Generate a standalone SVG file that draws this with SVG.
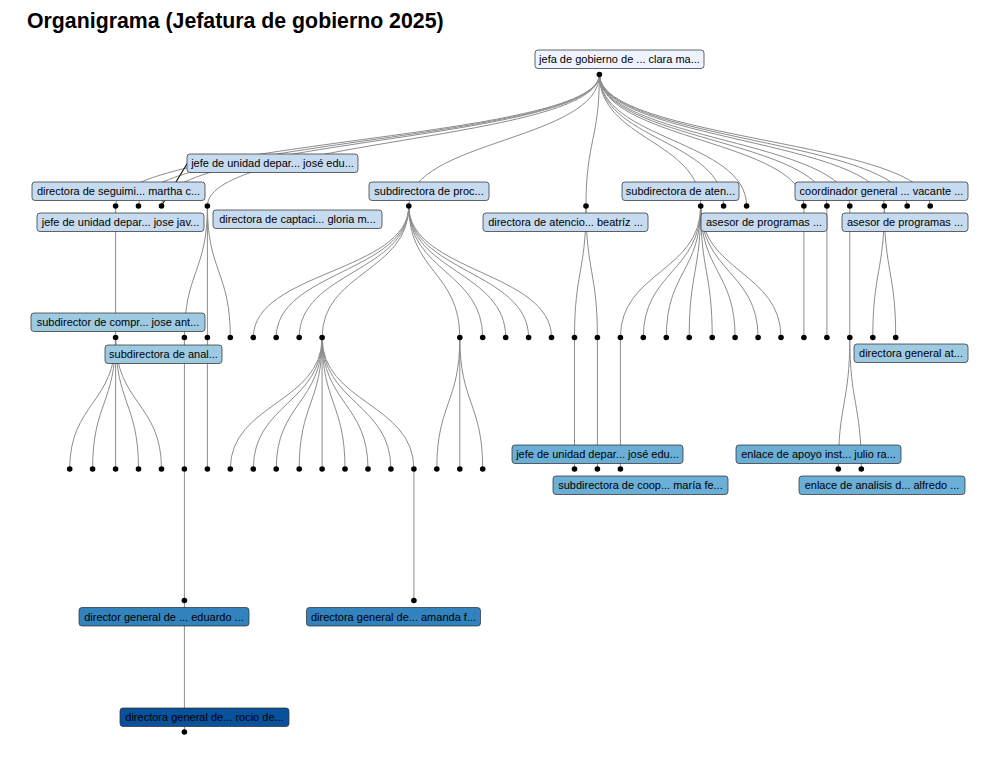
<svg xmlns="http://www.w3.org/2000/svg" width="1000" height="779" viewBox="0 0 1000 779">
<style>
.bg{fill:#fff}
.title{font-family:"Liberation Sans",Arial,sans-serif;font-weight:bold;font-size:21.3px;fill:#000}
.edge{fill:none;stroke:#8c8c8c;stroke-width:1}
.pt{fill:#000}
.box{stroke:#333;stroke-width:0.75;rx:3;ry:3}
.t{font-family:"Liberation Sans",Arial,sans-serif;font-size:11px;fill:#000;text-anchor:middle}
.d0{fill:#eff3ff}.d1{fill:#c6dbef}.d2{fill:#9ecae1}.d3{fill:#6baed6}.d4{fill:#3182bd}.d5{fill:#08519c}
.leader{stroke:#1a1a1a;stroke-width:1.2;fill:none}
</style>
<rect class="bg" x="0" y="0" width="1000" height="779"/>
<text class="title" x="27" y="28">Organigrama (Jefatura de gobierno 2025)</text>

<g id="connectors">
<path class="edge" d="M599.4,74.5 C599.4,140.25 115.6,140.25 115.6,206"/>
<path class="edge" d="M599.4,74.5 C599.4,140.25 138.5,140.25 138.5,206"/>
<path class="edge" d="M599.4,74.5 C599.4,140.25 161.5,140.25 161.5,206"/>
<path class="edge" d="M599.4,74.5 C599.4,140.25 207.4,140.25 207.4,206"/>
<path class="edge" d="M599.4,74.5 C599.4,140.25 408.8,140.25 408.8,206"/>
<path class="edge" d="M599.4,74.5 C599.4,140.25 586,140.25 586,206"/>
<path class="edge" d="M599.4,74.5 C599.4,140.25 700.7,140.25 700.7,206"/>
<path class="edge" d="M599.4,74.5 C599.4,140.25 723.6,140.25 723.6,206"/>
<path class="edge" d="M599.4,74.5 C599.4,140.25 746.6,140.25 746.6,206"/>
<path class="edge" d="M599.4,74.5 C599.4,140.25 803.9,140.25 803.9,206"/>
<path class="edge" d="M599.4,74.5 C599.4,140.25 826.9,140.25 826.9,206"/>
<path class="edge" d="M599.4,74.5 C599.4,140.25 849.8,140.25 849.8,206"/>
<path class="edge" d="M599.4,74.5 C599.4,140.25 884.3,140.25 884.3,206"/>
<path class="edge" d="M599.4,74.5 C599.4,140.25 907.2,140.25 907.2,206"/>
<path class="edge" d="M599.4,74.5 C599.4,140.25 930.2,140.25 930.2,206"/>
<path class="edge" d="M115.6,206 L115.6,337.5"/>
<path class="edge" d="M207.4,206 C207.4,271.75 184.4,271.75 184.4,337.5"/>
<path class="edge" d="M207.4,206 L207.4,337.5"/>
<path class="edge" d="M207.4,206 C207.4,271.75 230.3,271.75 230.3,337.5"/>
<path class="edge" d="M408.8,206 C408.8,271.75 253.3,271.75 253.3,337.5"/>
<path class="edge" d="M408.8,206 C408.8,271.75 276.2,271.75 276.2,337.5"/>
<path class="edge" d="M408.8,206 C408.8,271.75 299.2,271.75 299.2,337.5"/>
<path class="edge" d="M408.8,206 C408.8,271.75 322.1,271.75 322.1,337.5"/>
<path class="edge" d="M408.8,206 C408.8,271.75 459.8,271.75 459.8,337.5"/>
<path class="edge" d="M408.8,206 C408.8,271.75 482.7,271.75 482.7,337.5"/>
<path class="edge" d="M408.8,206 C408.8,271.75 505.7,271.75 505.7,337.5"/>
<path class="edge" d="M408.8,206 C408.8,271.75 528.6,271.75 528.6,337.5"/>
<path class="edge" d="M408.8,206 C408.8,271.75 551.5,271.75 551.5,337.5"/>
<path class="edge" d="M586,206 C586,271.75 574.5,271.75 574.5,337.5"/>
<path class="edge" d="M586,206 C586,271.75 597.4,271.75 597.4,337.5"/>
<path class="edge" d="M700.7,206 C700.7,271.75 620.4,271.75 620.4,337.5"/>
<path class="edge" d="M700.7,206 C700.7,271.75 643.3,271.75 643.3,337.5"/>
<path class="edge" d="M700.7,206 C700.7,271.75 666.3,271.75 666.3,337.5"/>
<path class="edge" d="M700.7,206 C700.7,271.75 689.2,271.75 689.2,337.5"/>
<path class="edge" d="M700.7,206 C700.7,271.75 712.2,271.75 712.2,337.5"/>
<path class="edge" d="M700.7,206 C700.7,271.75 735.1,271.75 735.1,337.5"/>
<path class="edge" d="M700.7,206 C700.7,271.75 758.1,271.75 758.1,337.5"/>
<path class="edge" d="M700.7,206 C700.7,271.75 781,271.75 781,337.5"/>
<path class="edge" d="M803.9,206 L803.9,337.5"/>
<path class="edge" d="M826.9,206 L826.9,337.5"/>
<path class="edge" d="M849.8,206 L849.8,337.5"/>
<path class="edge" d="M884.3,206 C884.3,271.75 872.8,271.75 872.8,337.5"/>
<path class="edge" d="M884.3,206 C884.3,271.75 895.7,271.75 895.7,337.5"/>
<path class="edge" d="M115.6,337.5 C115.6,403.25 69.7,403.25 69.7,469"/>
<path class="edge" d="M115.6,337.5 C115.6,403.25 92.6,403.25 92.6,469"/>
<path class="edge" d="M115.6,337.5 L115.6,469"/>
<path class="edge" d="M115.6,337.5 C115.6,403.25 138.5,403.25 138.5,469"/>
<path class="edge" d="M115.6,337.5 C115.6,403.25 161.5,403.25 161.5,469"/>
<path class="edge" d="M184.4,337.5 L184.4,469"/>
<path class="edge" d="M207.4,337.5 L207.4,469"/>
<path class="edge" d="M322.1,337.5 C322.1,403.25 230.3,403.25 230.3,469"/>
<path class="edge" d="M322.1,337.5 C322.1,403.25 253.3,403.25 253.3,469"/>
<path class="edge" d="M322.1,337.5 C322.1,403.25 276.2,403.25 276.2,469"/>
<path class="edge" d="M322.1,337.5 C322.1,403.25 299.2,403.25 299.2,469"/>
<path class="edge" d="M322.1,337.5 L322.1,469"/>
<path class="edge" d="M322.1,337.5 C322.1,403.25 345,403.25 345,469"/>
<path class="edge" d="M322.1,337.5 C322.1,403.25 368,403.25 368,469"/>
<path class="edge" d="M322.1,337.5 C322.1,403.25 390.9,403.25 390.9,469"/>
<path class="edge" d="M322.1,337.5 C322.1,403.25 413.9,403.25 413.9,469"/>
<path class="edge" d="M459.8,337.5 C459.8,403.25 436.8,403.25 436.8,469"/>
<path class="edge" d="M459.8,337.5 L459.8,469"/>
<path class="edge" d="M459.8,337.5 C459.8,403.25 482.7,403.25 482.7,469"/>
<path class="edge" d="M574.5,337.5 L574.5,469"/>
<path class="edge" d="M597.4,337.5 L597.4,469"/>
<path class="edge" d="M620.4,337.5 L620.4,469"/>
<path class="edge" d="M849.8,337.5 C849.8,403.25 838.3,403.25 838.3,469"/>
<path class="edge" d="M849.8,337.5 C849.8,403.25 861.3,403.25 861.3,469"/>
<path class="edge" d="M184.4,469 L184.4,600.5"/>
<path class="edge" d="M413.9,469 L413.9,600.5"/>
<path class="edge" d="M184.4,600.5 L184.4,732"/>
</g>

<g id="label-leaders">
<path class="leader" d="M190,159 L162.5,204"/>
</g>

<g id="node-root"><circle class="pt" cx="599.4" cy="74.5" r="2.8"/><rect class="box d0" x="535" y="50" width="169" height="18.5"/><text class="t" x="619.5" y="63">jefa de gobierno de ... clara ma...</text></g>

<g id="node-1-1"><circle class="pt" cx="115.6" cy="206" r="2.8"/><rect class="box d1" x="37" y="213" width="167" height="18.5"/><text class="t" x="120.5" y="226">jefe de unidad depar... jose jav...</text></g>
<g id="node-1-2"><circle class="pt" cx="138.5" cy="206" r="2.8"/><rect class="box d1" x="32" y="182" width="173" height="18.5"/><text class="t" x="118.5" y="195">directora de seguimi... martha c...</text></g>
<g id="node-1-3"><circle class="pt" cx="161.5" cy="206" r="2.8"/><rect class="box d1" x="187" y="154" width="171" height="18.5"/><text class="t" x="272.5" y="167">jefe de unidad depar... josé edu...</text></g>
<g id="node-1-4"><circle class="pt" cx="207.4" cy="206" r="2.8"/><rect class="box d1" x="213" y="210" width="169" height="18.5"/><text class="t" x="297.5" y="223">directora de captaci... gloria m...</text></g>
<g id="node-1-5"><circle class="pt" cx="408.8" cy="206" r="2.8"/><rect class="box d1" x="369" y="182" width="120" height="18.5"/><text class="t" x="429" y="195">subdirectora de proc...</text></g>
<g id="node-1-6"><circle class="pt" cx="586" cy="206" r="2.8"/><rect class="box d1" x="483" y="213" width="165" height="18.5"/><text class="t" x="565.5" y="226">directora de atencio... beatríz ...</text></g>
<g id="node-1-7"><circle class="pt" cx="700.7" cy="206" r="2.8"/><rect class="box d1" x="622" y="182" width="117" height="18.5"/><text class="t" x="680.5" y="195">subdirectora de aten...</text></g>
<g id="node-1-8"><circle class="pt" cx="723.6" cy="206" r="2.8"/><rect class="box d1" x="701" y="213" width="126" height="18.5"/><text class="t" x="764" y="226">asesor de programas ...</text></g>
<g id="node-1-9"><circle class="pt" cx="746.6" cy="206" r="2.8"/></g>
<g id="node-1-10"><circle class="pt" cx="803.9" cy="206" r="2.8"/></g>
<g id="node-1-11"><circle class="pt" cx="826.9" cy="206" r="2.8"/></g>
<g id="node-1-12"><circle class="pt" cx="849.8" cy="206" r="2.8"/></g>
<g id="node-1-13"><circle class="pt" cx="884.3" cy="206" r="2.8"/><rect class="box d1" x="795" y="182" width="173" height="18.5"/><text class="t" x="881.5" y="195">coordinador general ... vacante ...</text></g>
<g id="node-1-14"><circle class="pt" cx="907.2" cy="206" r="2.8"/><rect class="box d1" x="842" y="213" width="126" height="18.5"/><text class="t" x="905" y="226">asesor de programas ...</text></g>
<g id="node-1-15"><circle class="pt" cx="930.2" cy="206" r="2.8"/></g>

<g id="node-2-1"><circle class="pt" cx="115.6" cy="337.5" r="2.8"/><rect class="box d2" x="31" y="313" width="174" height="18.5"/><text class="t" x="118" y="326">subdirector de compr... jose ant...</text></g>
<g id="node-2-2"><circle class="pt" cx="184.4" cy="337.5" r="2.8"/><rect class="box d2" x="105" y="345" width="117" height="18.5"/><text class="t" x="163.5" y="358">subdirectora de anal...</text></g>
<g id="node-2-3"><circle class="pt" cx="207.4" cy="337.5" r="2.8"/></g>
<g id="node-2-4"><circle class="pt" cx="230.3" cy="337.5" r="2.8"/></g>
<g id="node-2-5"><circle class="pt" cx="253.3" cy="337.5" r="2.8"/></g>
<g id="node-2-6"><circle class="pt" cx="276.2" cy="337.5" r="2.8"/></g>
<g id="node-2-7"><circle class="pt" cx="299.2" cy="337.5" r="2.8"/></g>
<g id="node-2-8"><circle class="pt" cx="322.1" cy="337.5" r="2.8"/></g>
<g id="node-2-9"><circle class="pt" cx="459.8" cy="337.5" r="2.8"/></g>
<g id="node-2-10"><circle class="pt" cx="482.7" cy="337.5" r="2.8"/></g>
<g id="node-2-11"><circle class="pt" cx="505.7" cy="337.5" r="2.8"/></g>
<g id="node-2-12"><circle class="pt" cx="528.6" cy="337.5" r="2.8"/></g>
<g id="node-2-13"><circle class="pt" cx="551.5" cy="337.5" r="2.8"/></g>
<g id="node-2-14"><circle class="pt" cx="574.5" cy="337.5" r="2.8"/></g>
<g id="node-2-15"><circle class="pt" cx="597.4" cy="337.5" r="2.8"/></g>
<g id="node-2-16"><circle class="pt" cx="620.4" cy="337.5" r="2.8"/></g>
<g id="node-2-17"><circle class="pt" cx="643.3" cy="337.5" r="2.8"/></g>
<g id="node-2-18"><circle class="pt" cx="666.3" cy="337.5" r="2.8"/></g>
<g id="node-2-19"><circle class="pt" cx="689.2" cy="337.5" r="2.8"/></g>
<g id="node-2-20"><circle class="pt" cx="712.2" cy="337.5" r="2.8"/></g>
<g id="node-2-21"><circle class="pt" cx="735.1" cy="337.5" r="2.8"/></g>
<g id="node-2-22"><circle class="pt" cx="758.1" cy="337.5" r="2.8"/></g>
<g id="node-2-23"><circle class="pt" cx="781" cy="337.5" r="2.8"/></g>
<g id="node-2-24"><circle class="pt" cx="803.9" cy="337.5" r="2.8"/></g>
<g id="node-2-25"><circle class="pt" cx="826.9" cy="337.5" r="2.8"/></g>
<g id="node-2-26"><circle class="pt" cx="849.8" cy="337.5" r="2.8"/><rect class="box d2" x="854" y="344" width="114" height="18.5"/><text class="t" x="911" y="357">directora general at...</text></g>
<g id="node-2-27"><circle class="pt" cx="872.8" cy="337.5" r="2.8"/></g>
<g id="node-2-28"><circle class="pt" cx="895.7" cy="337.5" r="2.8"/></g>

<g id="node-3-1"><circle class="pt" cx="69.7" cy="469" r="2.8"/></g>
<g id="node-3-2"><circle class="pt" cx="92.6" cy="469" r="2.8"/></g>
<g id="node-3-3"><circle class="pt" cx="115.6" cy="469" r="2.8"/></g>
<g id="node-3-4"><circle class="pt" cx="138.5" cy="469" r="2.8"/></g>
<g id="node-3-5"><circle class="pt" cx="161.5" cy="469" r="2.8"/></g>
<g id="node-3-6"><circle class="pt" cx="184.4" cy="469" r="2.8"/></g>
<g id="node-3-7"><circle class="pt" cx="207.4" cy="469" r="2.8"/></g>
<g id="node-3-8"><circle class="pt" cx="230.3" cy="469" r="2.8"/></g>
<g id="node-3-9"><circle class="pt" cx="253.3" cy="469" r="2.8"/></g>
<g id="node-3-10"><circle class="pt" cx="276.2" cy="469" r="2.8"/></g>
<g id="node-3-11"><circle class="pt" cx="299.2" cy="469" r="2.8"/></g>
<g id="node-3-12"><circle class="pt" cx="322.1" cy="469" r="2.8"/></g>
<g id="node-3-13"><circle class="pt" cx="345" cy="469" r="2.8"/></g>
<g id="node-3-14"><circle class="pt" cx="368" cy="469" r="2.8"/></g>
<g id="node-3-15"><circle class="pt" cx="390.9" cy="469" r="2.8"/></g>
<g id="node-3-16"><circle class="pt" cx="413.9" cy="469" r="2.8"/></g>
<g id="node-3-17"><circle class="pt" cx="436.8" cy="469" r="2.8"/></g>
<g id="node-3-18"><circle class="pt" cx="459.8" cy="469" r="2.8"/></g>
<g id="node-3-19"><circle class="pt" cx="482.7" cy="469" r="2.8"/></g>
<g id="node-3-20"><circle class="pt" cx="574.5" cy="469" r="2.8"/><rect class="box d3" x="512" y="445" width="171" height="18.5"/><text class="t" x="597.5" y="458">jefe de unidad depar... josé edu...</text></g>
<g id="node-3-21"><circle class="pt" cx="597.4" cy="469" r="2.8"/></g>
<g id="node-3-22"><circle class="pt" cx="620.4" cy="469" r="2.8"/><rect class="box d3" x="553" y="476" width="175" height="18.5"/><text class="t" x="640.5" y="489">subdirectora de coop... maría fe...</text></g>
<g id="node-3-23"><circle class="pt" cx="838.3" cy="469" r="2.8"/><rect class="box d3" x="736" y="445" width="165" height="18.5"/><text class="t" x="818.5" y="458">enlace de apoyo inst... julio ra...</text></g>
<g id="node-3-24"><circle class="pt" cx="861.3" cy="469" r="2.8"/><rect class="box d3" x="799" y="476" width="166" height="18.5"/><text class="t" x="882" y="489">enlace de analisis d... alfredo ...</text></g>

<g id="node-4-1"><circle class="pt" cx="184.4" cy="600.5" r="2.8"/><rect class="box d4" x="79" y="607.5" width="170" height="18.5"/><text class="t" x="164" y="620.5">director general de ... eduardo ...</text></g>
<g id="node-4-2"><circle class="pt" cx="413.9" cy="600.5" r="2.8"/><rect class="box d4" x="306.5" y="607.5" width="174" height="18.5"/><text class="t" x="393.5" y="620.5">directora general de... amanda f...</text></g>

<g id="node-5-1"><circle class="pt" cx="184.4" cy="732" r="2.8"/><rect class="box d5" x="120" y="708" width="169" height="18.5"/><text class="t" x="204.5" y="721">directora general de... rocio de...</text></g>
</svg>
